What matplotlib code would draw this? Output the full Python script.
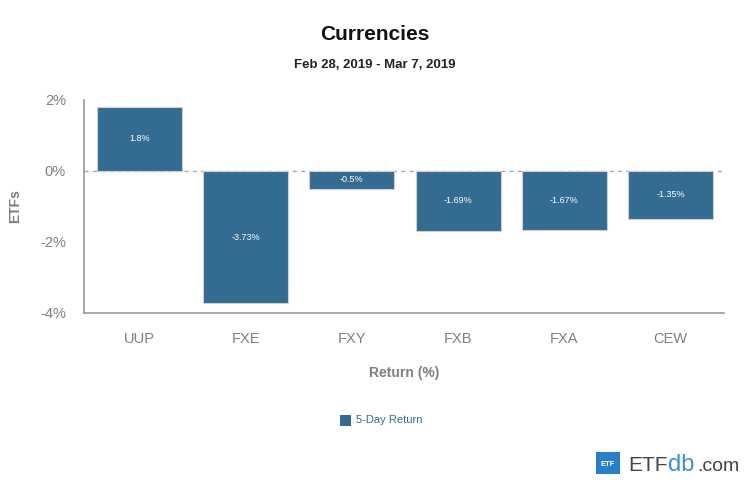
import matplotlib.pyplot as plt
from matplotlib.patches import Rectangle

plt.rcParams['font.family'] = ['Liberation Sans', 'DejaVu Sans']

tickers = ['UUP', 'FXE', 'FXY', 'FXB', 'FXA', 'CEW']
returns = [1.8, -3.73, -0.5, -1.69, -1.67, -1.35]
labels = ['1.8%', '-3.73%', '-0.5%', '-1.69%', '-1.67%', '-1.35%']

bar_color = '#336b91'
grey = '#7f7f7f'

fig = plt.figure(figsize=(7.5, 4.8), dpi=100)
ax = fig.add_axes([0.112, 0.348, 0.853, 0.444])

x = range(len(tickers))
ax.bar(x, returns, width=0.8, color=bar_color, edgecolor='#cfcfcf', linewidth=0.8, zorder=2)
for i, (v, s) in enumerate(zip(returns, labels)):
    ax.text(i, v / 2, s, ha='center', va='center', color='white', fontsize=6.5, zorder=3)

ax.axhline(0, color='#aaaaaa', linestyle=(0, (3, 3)), linewidth=1, zorder=1)

ax.set_xlim(-0.52, 5.5)
ax.set_ylim(-4, 2)
ax.set_yticks([-4, -2, 0, 2])
ax.set_yticklabels(['-4%', '-2%', '0%', '2%'])
ax.set_xticks(list(x))
ax.set_xticklabels(tickers)
ax.tick_params(axis='both', length=0, colors=grey, labelsize=10.5)
ax.tick_params(axis='x', pad=14)
ax.tick_params(axis='y', pad=13)
for side in ['top', 'right']:
    ax.spines[side].set_visible(False)
for side in ['left', 'bottom']:
    ax.spines[side].set_color('#999999')
    ax.spines[side].set_linewidth(1.2)

ax.set_xlabel('Return (%)', color=grey, fontsize=10, fontweight='bold', labelpad=14)
ax.set_ylabel('ETFs', color=grey, fontsize=10, fontweight='bold')
ax.yaxis.set_label_coords(-0.097, 0.5)

fig.text(0.5, 1 - 40 / 480, 'Currencies', ha='center', va='baseline', fontsize=15, fontweight='bold', color='#111111')
fig.text(0.5, 1 - 68 / 480, 'Feb 28, 2019 - Mar 7, 2019', ha='center', va='baseline', fontsize=9.5, fontweight='bold', color='#222222')

# legend
fig.patches.append(Rectangle((340 / 750, 1 - 426 / 480), 11 / 750, 11 / 480,
                             transform=fig.transFigure, facecolor=bar_color, edgecolor='none'))
fig.text(356 / 750, 1 - 420 / 480, '5-Day Return', ha='left', va='center', fontsize=8, color='#336b91')

# logo
fig.patches.append(Rectangle((596 / 750, 1 - 474 / 480), 24 / 750, 22 / 480,
                             transform=fig.transFigure, facecolor='#2a7fc9', edgecolor='none'))
fig.text(608 / 750, 1 - 464 / 480, 'ETF', ha='center', va='center', fontsize=5.5, fontweight='bold', color='white')
base = 1 - 471 / 480
fig.text(628 / 750, base, 'ETF', ha='left', va='baseline', fontsize=15, color='#444444')
fig.text(668 / 750, base, 'db', ha='left', va='baseline', fontsize=17, color='#3a8fd6')
fig.text(697 / 750, base, '.com', ha='left', va='baseline', fontsize=14, color='#444444')

fig.savefig('out.png', dpi=100)
